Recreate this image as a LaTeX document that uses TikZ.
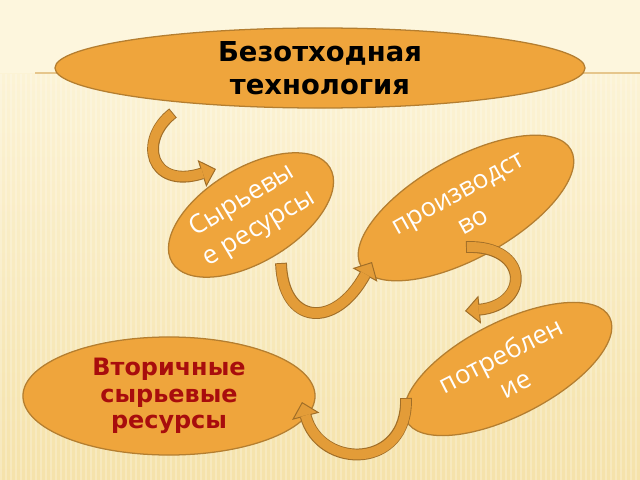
\documentclass[tikz,border=0pt]{standalone}
\usepackage{fontspec}
\usetikzlibrary{shapes.geometric,arrows.meta}
\newfontfamily\titlefont{DejaVu Sans}
\newfontfamily\wfont{Open Sans}
\definecolor{bgtop}{HTML}{FDF6DD}
\definecolor{bgbot}{HTML}{F5E2AA}
\definecolor{ellfill}{HTML}{EFA53C}
\definecolor{elledge}{HTML}{B47E30}
\definecolor{darkred}{HTML}{A80D0D}
\definecolor{arrfill}{HTML}{E39C38}
\definecolor{arredge}{HTML}{A06E28}
\definecolor{rulecol}{HTML}{E6C68C}
\tikzset{
  blob/.style={ellipse, draw=elledge, fill=ellfill, line width=0.9pt, inner sep=0pt, align=center},
  whitetext/.style={text=white, font=\wfont\fontsize{18.5}{23}\selectfont},
  bandout/.style={line width=8.4pt, draw=arredge,
    -{Triangle[width=20pt,length=10.5pt,fill=arrfill,color=arredge,line width=0.7pt]}},
  bandin/.style={line width=7pt, draw=arrfill, shorten >=9.8pt, shorten <=0.7pt}
}
\begin{document}
\begin{tikzpicture}[x=0.025cm,y=-0.025cm]
\useasboundingbox (0,0) rectangle (640,480);
% background
\shade[top color=bgtop, bottom color=bgbot] (0,0) rectangle (640,480);
\fill[bgtop] (0,0) rectangle (640,73);
\foreach \x in {0,5,...,640} {
  \fill[white, opacity=0.22] (\x,74) rectangle (\x+2,480);
}
\draw[rulecol, line width=1.2pt] (35,73) -- (640,73);

% nodes
\node[blob, minimum width=13.25cm, minimum height=2cm,
      font=\titlefont\bfseries\fontsize{19.5}{23.5}\selectfont] (top) at (320,68)
      {Безотходная\\технология};
\node[blob, minimum width=4.6cm, minimum height=2.35cm, rotate=31, whitetext] (syr) at (251,215)
      {Сырьевы\\е ресурсы};
\node[blob, minimum width=6cm, minimum height=2.5cm, rotate=29, whitetext] (proiz) at (466,208)
      {производст\\во};
\node[blob, minimum width=5.7cm, minimum height=2.35cm, rotate=27, whitetext] (potr) at (508,369)
      {потреблен\\ие};
\node[blob, minimum width=7.3cm, minimum height=2.95cm, text=darkred,
      font=\titlefont\bfseries\fontsize{17}{19}\selectfont] (vtor) at (169,396)
      {Вторичные\\сырьевые\\ресурсы};

% connector end points
\coordinate (t1) at (173,113);
\coordinate (h1) at (216,169);
\coordinate (t2) at (281,263);
\coordinate (h2) at (372,262);
\coordinate (t3) at (466,247);
\coordinate (h3) at (465,311);
\coordinate (t4) at (406,398);
\coordinate (h4) at (302,402);

% curved block arrows
\foreach \s in {bandout,bandin} {
  \draw[\s] (t1) .. controls (138,140) and (150,190) .. (h1);
  \draw[\s] (t2) .. controls (283,325) and (335,330) .. (h2);
  \draw[\s] (t3) .. controls (530,245) and (530,305) .. (h3);
  \draw[\s] (t4) .. controls (408,470) and (320,470) .. (h4);
}
\end{tikzpicture}
\end{document}
